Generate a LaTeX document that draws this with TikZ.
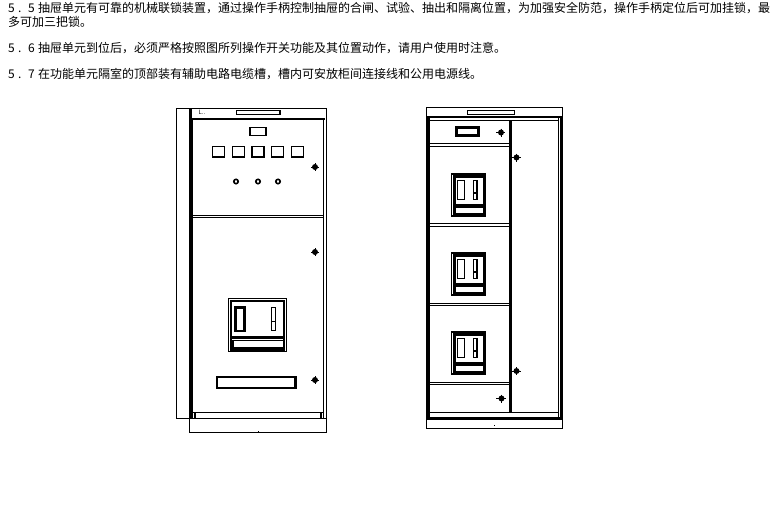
\documentclass[tikz,border=0pt]{standalone}
\usepackage{fontspec}
\setmainfont{Noto Sans CJK SC}
\newcommand{\secnum}[2]{\makebox[10pt][l]{#1}\makebox[10pt][l]{.}\makebox[10pt][l]{#2}}
\tikzset{
	textline/.style={anchor=base west,inner sep=0pt,font=\fontsize{12}{12}\selectfont},
	thinline/.style={line width=1pt},
	frameline/.style={line width=1.3pt},
	heavyline/.style={line width=2.2pt}
}
\begin{document}
\begin{tikzpicture}[x=1pt,y=-1pt]
	\useasboundingbox (0,0) rectangle (780,507);
	\node[textline] (line55) at (8,12.5) {\secnum{5}{5}抽屉单元有可靠的机械联锁装置，通过操作手柄控制抽屉的合闸、试验、抽出和隔离位置，为加强安全防范，操作手柄定位后可加挂锁，最};
	\node[textline] (line55b) at (8,26.5) {多可加三把锁。};
	\node[textline] (line56) at (8,52.5) {\secnum{5}{6}抽屉单元到位后，必须严格按照图所列操作开关功能及其位置动作，请用户使用时注意。};
	\node[textline] (line57) at (8,78.5) {\secnum{5}{7}在功能单元隔室的顶部装有辅助电路电缆槽，槽内可安放柜间连接线和公用电源线。};
	%left cabinet
	\draw[thinline] (176.5,108.5) rectangle (326.5,418.5);
	\draw[heavyline] (190.5,108.5)--(190.5,418.5);
	\draw[frameline] (323.5,119)--(323.5,418.5) (192.5,119)--(192.5,418.5) (326.5,108.5)--(326.5,418.5);
	\draw[heavyline] (192,119)--(325,119);
	\draw[frameline] (192,215.5)--(324,215.5) (192,217.5)--(324,217.5);
	\draw[thinline] (192,412.5)--(324,412.5);
	\draw[frameline] (195,412)--(195,418) (321,412)--(321,418);
	\draw[thinline] (189.5,418.5) rectangle (326.5,432.5);
	\draw[frameline] (236.5,110.5) rectangle (280,114.5);
	\node[inner sep=0pt,font=\fontsize{6}{6}\selectfont] (maker) at (202,112) {L..};
	\fill (258,430.5) rectangle +(1,1);
	\draw[frameline] (250,127.5) rectangle (266,135.5);
	\foreach \q in {212.5,232.5,252,271.5,291.5}
	\draw[frameline] (\q,146.5) rectangle +(12,10.5);
	\foreach \q in {236,258,278}
	\draw[line width=1.6pt] (\q,181.5) circle (2.2);
	%handle
	\draw[thinline] (228.5,298.5) rectangle (286.5,351.5);
	\draw[line width=2.6pt] (231,301) rectangle (284,349.5);
	\draw[heavyline] (235.5,307.5) rectangle (244.5,331);
	\draw[thinline] (271.5,307.5) rectangle (275.5,330.5) (271.5,321.5)--(275.5,321.5);
	\fill (231,335.5) rectangle (284,339);
	\fill (231,340) rectangle (284,350);
	\fill[white] (233.5,341) rectangle (282.5,346.5);
	\draw[heavyline] (217,377) rectangle (295.5,388);
	%right cabinet
	\draw[frameline] (426.5,107.5) rectangle (562.5,428.5);
	\draw[heavyline] (426.5,117)--(562.5,117) (426.5,418.5)--(562.5,418.5);
	\draw[frameline] (429.5,117)--(429.5,418.5) (558.5,117)--(558.5,418.5);
	\draw[heavyline] (427.5,117)--(427.5,418.5) (561,117)--(561,418.5);
	\draw[frameline] (467.5,110.5) rectangle (514.5,114.5);
	\draw[thinline] (429.5,120.5)--(558.5,120.5) (429.5,412.5)--(558.5,412.5);
	\draw[heavyline] (511,120)--(511,412.5);
	\draw[thinline] (509.5,120)--(509.5,412.5);
	\foreach \p/\q in {120.5/143.5,146.5/223.5,226.5/303.5,305.5/382.5,384.5/412.5}
	\draw[frameline] (429.5,\p) rectangle (509.5,\q);
	\draw[heavyline] (456.5,127.5) rectangle (478.5,135.5);
	\foreach \q in {0,79,158}
	{
		\fill (451,173+\q) rectangle (486,217+\q);
		\draw[white,line width=0.9pt] (452.6,175+\q)--(452.6,215+\q);
		\fill[white] (455.5,177.7+\q) rectangle (482.5,204+\q);
		\fill[white] (455.5,207.7+\q) rectangle (482.5,212.7+\q);
		\draw[frameline] (457.5,180.5+\q) rectangle (464.5,199.5+\q);
		\draw[frameline] (473.5,180.5+\q) rectangle (477,199.5+\q);
		\fill (473.5,192+\q) rectangle (477,194+\q);
	}
	%locks
	\foreach \p/\q in {315/167,315/252,315/380,501/132.5,516.5/157.5,516.5/371,501.5/398.5}
	{
		\fill[black] (\p,\q) circle (3);
		\draw[thinline] (\p-4,\q)--(\p+4,\q) (\p,\q-4)--(\p,\q+4);
	}
	\draw[thinline] (511,157.5)--(513,157.5) (511,371)--(513,371);
	\draw[thinline] (496,398.5)--(498,398.5);
	\draw[thinline] (496,132.5)--(498,132.5);
	\fill (493.5,426) rectangle (494.5,425);
\end{tikzpicture}
\end{document}
